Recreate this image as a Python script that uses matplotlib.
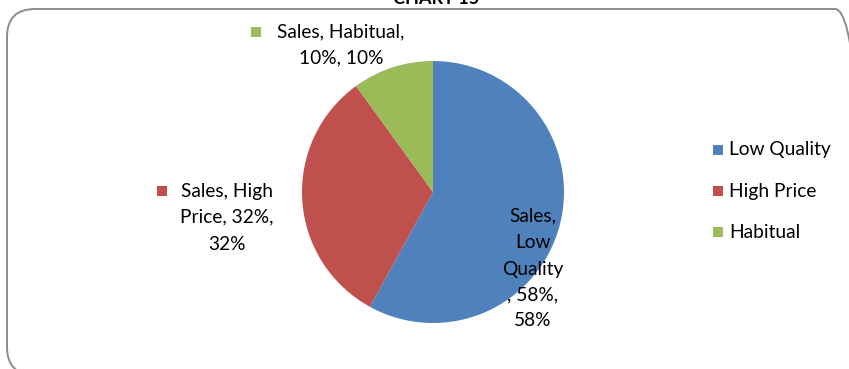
import matplotlib
matplotlib.use("Agg")
import matplotlib.pyplot as plt
from matplotlib.patches import FancyBboxPatch, Rectangle

plt.rcParams['font.family'] = ['Lato', 'DejaVu Sans']

categories = ["Low Quality", "High Price", "Habitual"]
shares = [58, 32, 10]
colors = ["#4F81BD", "#C0504D", "#9BBB59"]
series_name = "Sales"

W, H = 849, 369
fig = plt.figure(figsize=(W / 100, H / 100), dpi=100)

# pie
cx, cy, r = 433, 192, 131
ax = fig.add_axes([(cx - r) / W, 1 - (cy + r) / H, 2 * r / W, 2 * r / H])
ax.pie(shares, colors=colors, startangle=90, counterclock=False,
       wedgeprops=dict(linewidth=0), radius=1)
ax.set_xlim(-1, 1)
ax.set_ylim(-1, 1)
ax.set_aspect("equal")
ax.axis("off")

# full-figure overlay in pixel units for frame, labels and keys
bg = fig.add_axes([0, 0, 1, 1], zorder=5)
bg.set_xlim(0, W)
bg.set_ylim(0, H)
bg.axis("off")


def Y(y):
    return H - y


frame = FancyBboxPatch((7, Y(375)), 863 - 7, 375 - 9,
                       boxstyle="round,pad=0,rounding_size=28",
                       facecolor="none", edgecolor="#8c8c8c", linewidth=1.4,
                       clip_on=False)
bg.add_patch(frame)

bg.text(436, Y(4), "CHART 15", ha="center", va="baseline",
        fontsize=13, fontweight="bold")

fs = 13.8


def key(x, y, color):
    bg.add_patch(Rectangle((x, Y(y + 10)), 10, 10, facecolor=color, edgecolor="none"))


def label(x, ys, lines):
    for y, t in zip(ys, lines):
        bg.text(x, Y(y), t, ha="center", va="center", fontsize=fs)


lq, hp, hb = categories
# data labels
key(251, 27, colors[2])
label(341, [32, 58], [f"{series_name}, {hb},", f"{shares[2]}%, {shares[2]}%"])

key(157, 186, colors[1])
label(227, [191, 217, 244],
      [f"{series_name}, High", f"Price, {shares[1]}%,", f"{shares[1]}%"])

label(533, [216, 243, 269, 295, 321],
      [f"{series_name},", "Low", "Quality", f", {shares[0]}%,", f"{shares[0]}%"])

# legend
for i, (name, c) in enumerate(zip(categories, colors)):
    y = 150 + i * 41
    key(713, y - 5, c)
    bg.text(729, Y(y), name, ha="left", va="center", fontsize=fs)

fig.savefig("out.png", dpi=100)
